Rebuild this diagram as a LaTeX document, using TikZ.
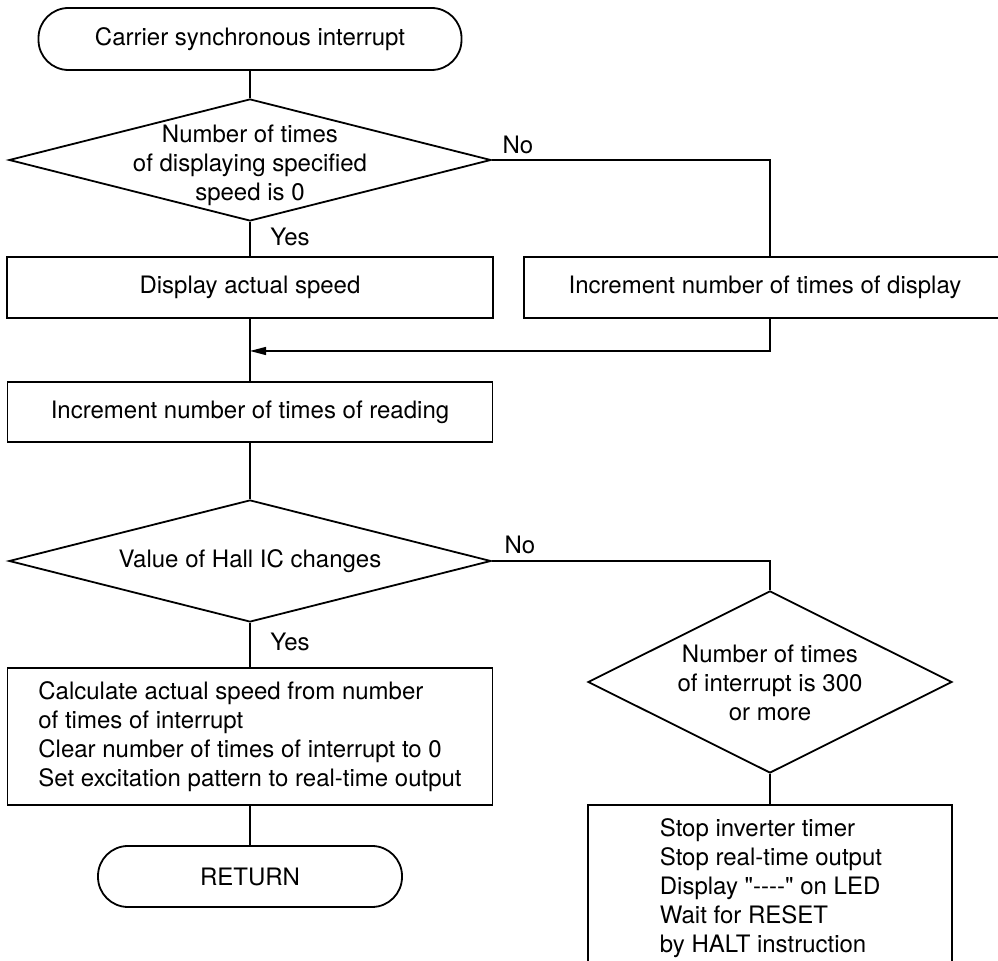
\documentclass[tikz,border=0pt]{standalone}
\usepackage{fontspec}
\setmainfont{TeX Gyre Heros}[Ligatures=TeXOff]
\usetikzlibrary{shapes.geometric, arrows.meta}

\begin{document}
\begin{tikzpicture}[x=0.5pt, y=-0.5pt,
  font=\fontsize{12}{14.5}\selectfont,
  shapeline/.style={draw, line width=0.9pt},
  procbox/.style={shapeline, rectangle, inner sep=0pt},
  termbox/.style={shapeline, rectangle, rounded corners=15pt, inner sep=0pt},
  decision/.style={shapeline, diamond, inner sep=0pt},
  flow/.style={draw, line width=0.65pt},
  tag/.style={inner sep=0pt},
  arrowtip/.style={-{Triangle[length=8pt,width=4pt]}}
]
\useasboundingbox (0,0) rectangle (998,961);

% main column
\node[termbox, minimum width=211.5pt, minimum height=31pt] (st) at (250,39)
  {Carrier synchronous interrupt};

\node[decision, minimum width=241pt, minimum height=61pt] (d1) at (250,160) {};
\node[tag, align=center] (d1t) at (250,165)
  {Number of times\\ of displaying specified\\ speed is 0};

\node[procbox, minimum width=243pt, minimum height=30.5pt] (b1) at (250,287.5)
  {Display actual speed};

% this box runs on past the right edge of the page
\node[procbox, anchor=west, minimum width=270pt, minimum height=30.5pt] (b2) at (523,287.5) {};
\node[tag] (b2t) at (765,287.5) {Increment number of times of display};

\node[procbox, minimum width=242.5pt, minimum height=30pt] (b3) at (250,412)
  {Increment number of times of reading};

\node[decision, minimum width=241pt, minimum height=61pt] (d2) at (250,561) {};
\node[tag] (d2t) at (250,561) {Value of Hall IC changes};

\node[procbox, minimum width=242.5pt, minimum height=68.5pt, align=left] (b4) at (250,736.5)
  {Calculate actual speed from number\\ of times of interrupt\\ Clear number of times of interrupt to 0\\ Set excitation pattern to real-time output};

\node[termbox, minimum width=152pt, minimum height=30.5pt] (ret) at (250,876.5)
  {RETURN};

% right branch
\node[decision, minimum width=182pt, minimum height=91pt] (d3) at (770,682) {};
\node[tag, align=center] (d3t) at (770,683)
  {Number of times\\ of interrupt is 300\\ or more};

% this box runs on past the bottom edge of the page
\node[procbox, anchor=north, minimum width=182pt, minimum height=95pt] (b5) at (770,804) {};
\node[tag, anchor=north, align=left] (b5t) at (771,818)
  {Stop inverter timer\\ Stop real-time output\\ Display "----" on LED\\ Wait for RESET\\ by HALT instruction};

% branch labels
\node[tag] (no1) at (518,145) {No};
\node[tag] (yes1) at (290,237) {Yes};
\node[tag] (no2) at (520,545) {No};
\node[tag] (yes2) at (290,642) {Yes};

% connectors
\coordinate (rj) at (770,0);
\coordinate (merge) at (250,351);

\draw[flow] (st.south) -- (d1.north);
\draw[flow] (d1.south) -- (b1.north);
\draw[flow] (b1.south) -- (b3.north);
\draw[flow] (d1.east) -| (rj |- b2.north);
\draw[flow, arrowtip] (rj |- b2.south) |- (merge);
\draw[flow] (b3.south) -- (d2.north);
\draw[flow] (d2.south) -- (b4.north);
\draw[flow] (b4.south) -- (ret.north);
\draw[flow] (d2.east) -| (d3.north);
\draw[flow] (d3.south) -- (b5.north);
\end{tikzpicture}
\end{document}
